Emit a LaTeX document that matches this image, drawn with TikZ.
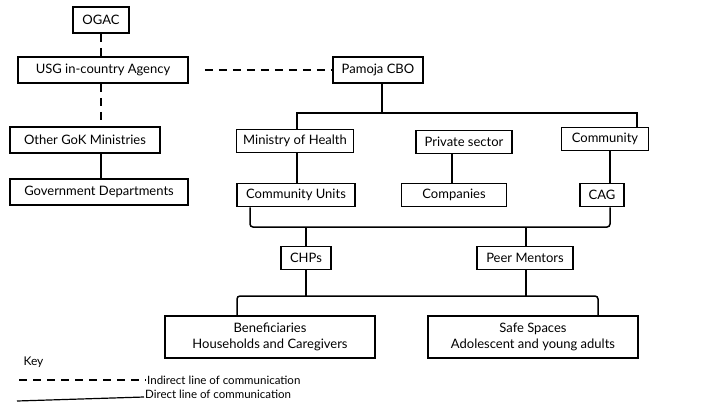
\documentclass[tikz,border=0pt]{standalone}
\usepackage{fontspec}
\setmainfont{Lato}
\begin{document}
\begin{tikzpicture}[x=1pt,y=-1pt,
    box/.style={draw,line width=1.5pt,inner sep=2pt,font=\fontsize{13}{16}\selectfont,align=center},
    direct/.style={line width=1.5pt},
    indirect/.style={line width=2pt,dash pattern=on 8pt off 6pt},
    keytext/.style={font=\fontsize{11.5}{13}\selectfont,anchor=west,inner sep=1pt}]
    \useasboundingbox (0,0) rectangle (720,405);

    \node[box,minimum width=56pt,minimum height=26pt] (ogac) at (101,20) {OGAC};
    \node[box,minimum width=170pt,minimum height=26pt] (usg) at (103,70) {USG in-country Agency};
    \node[box,minimum width=90pt,minimum height=26pt] (pamoja) at (378,70) {Pamoja CBO};

    \node[box,minimum width=150pt,minimum height=26pt] (gok) at (85,140) {Other GoK Ministries};
    \node[box,minimum width=178pt,minimum height=26pt] (govdep) at (99,192) {Government Departments};

    \node[box,minimum width=117pt,minimum height=23pt] (moh) at (295,141) {Ministry of Health};
    \node[box,minimum width=96pt,minimum height=23pt] (private) at (464,142) {Private sector};
    \node[box,minimum width=87pt,minimum height=23pt] (community) at (605,139) {Community};

    \node[box,minimum width=118pt,minimum height=23pt] (units) at (296,195) {Community Units};
    \node[box,minimum width=105pt,minimum height=23pt] (companies) at (454,195) {Companies};
    \node[box,minimum width=44pt,minimum height=23pt] (cag) at (602,195) {CAG};

    \node[box,minimum width=50pt,minimum height=23pt] (chps) at (306,258) {CHPs};
    \node[box,minimum width=96pt,minimum height=23pt] (peer) at (525,258) {Peer Mentors};

    \node[box,minimum width=210pt,minimum height=42pt] (benef) at (270,337) {Beneficiaries\\Households and Caregivers};
    \node[box,minimum width=210pt,minimum height=42pt] (safe) at (533,337) {Safe Spaces\\Adolescent and young adults};

    % indirect links
    \draw[indirect] (ogac) -- (usg.north -| ogac);
    \draw[indirect] (usg.south -| ogac) -- (gok.north -| ogac);
    \draw[indirect] (usg.east) ++(16,0) -- (pamoja.west);

    % direct links
    \draw[direct] (gok.south -| ogac) -- (govdep.north -| ogac);
    \draw[direct] (pamoja.south -| 382,0) -- (382,113);
    \draw[direct] (moh.north -| 297,0) |- (382,113) -| (community.north -| 637,0);
    \draw[direct] (moh.south -| 297,0) -- (units.north -| 297,0);
    \draw[direct] (private.south -| 452,0) -- (companies.north -| 452,0);
    \draw[direct] (community.south -| 610,0) -- (cag.north -| 610,0);
    \draw[direct,rounded corners=3pt] (units.south -| 250,0) |- (306,227) -| (cag.south -| 610,0);
    \draw[direct] (306,227) -- (chps);
    \draw[direct] (peer.north -| 526,0) -- (526,227);
    \draw[direct] (chps) -- (306,296);
    \draw[direct] (peer.south -| 526,0) -- (526,296);
    \draw[direct,rounded corners=3pt] (benef.north -| 237,0) |- (306,296) -| (safe.north -| 598,0);

    % key
    \node[font=\fontsize{12}{14}\selectfont,anchor=west] (key) at (20,362) {Key};
    \node[keytext] (ind) at (146,380) {Indirect line of communication};
    \node[keytext] (dir) at (144,394) {Direct line of communication};
    \draw[indirect] (19,380) -- (ind.west);
    \draw[line width=1.2pt] (17,401) -- (dir.west |- 0,397);
\end{tikzpicture}
\end{document}
